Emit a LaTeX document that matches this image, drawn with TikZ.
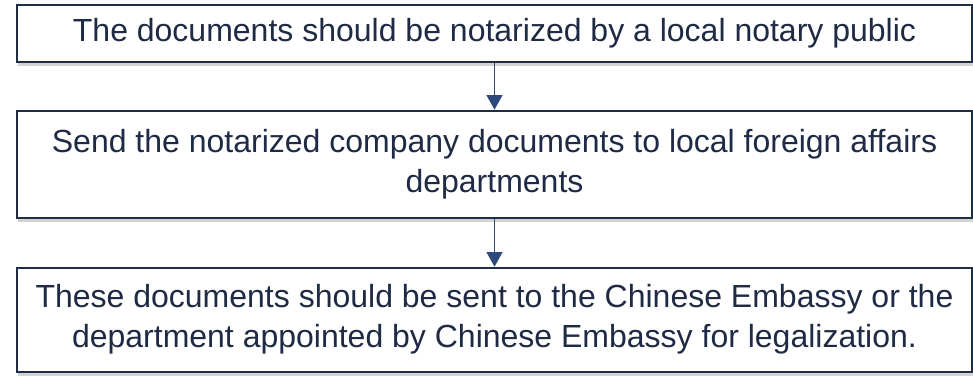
\documentclass[tikz,border=0pt]{standalone}
\usepackage{fontspec}
\setmainfont{Liberation Sans}
\usetikzlibrary{positioning,shadows,arrows.meta}
\definecolor{boxline}{HTML}{1F2D45}
\definecolor{flowblue}{HTML}{2E4A7A}
\definecolor{textnavy}{HTML}{1F2A44}

\begin{document}
\begin{tikzpicture}[x=0.75pt, y=-0.75pt, node distance={36pt},
  stepbox/.style = {draw=boxline, line width=1.5pt, fill=white, text=textnavy,
    minimum width=716pt, align=center, font=\fontsize{24}{30}\selectfont,
    drop shadow={shadow xshift=0.5pt, shadow yshift=-3pt, opacity=0.35}},
  flow/.style = {draw=flowblue, line width=1.2pt, -{Triangle[length=11pt, width=12pt]}}]
\useasboundingbox (0,0) rectangle (973,375);
\node[stepbox, minimum height=42.75pt] (1) at (494.5,33.5) {The documents should be notarized by a local notary public};
\node[stepbox, minimum height=80.25pt, below=35pt of 1] (2) {Send the notarized company documents to local foreign affairs\\departments};
\node[stepbox, minimum height=78pt, below=36pt of 2] (3) {These documents should be sent to the Chinese Embassy or the\\department appointed by Chinese Embassy for legalization.};
\draw[flow] (1) -- (2);
\draw[flow] (2) -- (3);
\end{tikzpicture}
\end{document}
